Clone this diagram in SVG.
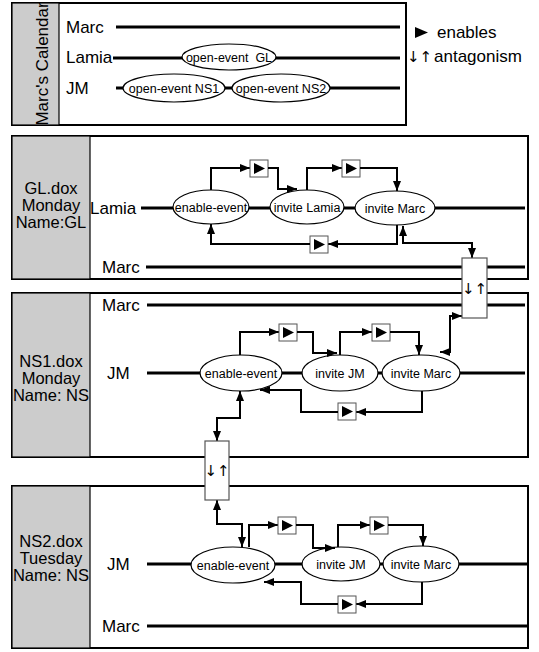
<svg xmlns="http://www.w3.org/2000/svg" xmlns:xlink="http://www.w3.org/1999/xlink" width="539" height="652" viewBox="0 0 539 652">
<style>
text{font-family:"Liberation Sans",Arial,Helvetica,sans-serif;fill:#000}
.lbl{font-size:17px}
.side{font-size:16.5px;text-anchor:middle}
.ev{font-size:12.5px;text-anchor:middle;white-space:pre}
.ant{font-family:"DejaVu Sans",sans-serif;font-size:15px;text-anchor:middle;fill:#000}
.antl{font-family:"DejaVu Sans",sans-serif;font-size:15px;fill:#000}
.frame{fill:#fff;stroke:#000;stroke-width:2}
.gray{fill:#cccccc;stroke:#000;stroke-width:1.2}
.lane{stroke:#000;stroke-width:3;fill:none}
.ell{fill:#fff;stroke:#000;stroke-width:1.2}
.arr{stroke:#000;stroke-width:2;fill:none;marker-end:url(#ah)}
.arr2{stroke:#000;stroke-width:2;fill:none;marker-end:url(#ah);marker-start:url(#ah)}
.abox{fill:#fff;stroke:#555;stroke-width:1.2}
</style>
<defs>
<marker id="ah" viewBox="0 0 10 8" refX="10" refY="4" markerWidth="10" markerHeight="8" markerUnits="userSpaceOnUse" orient="auto-start-reverse"><path d="M0,0 L10,4 L0,8 z" fill="#000"/></marker>
<g id="en"><rect x="0" y="0" width="18" height="17" fill="#fff" stroke="#555" stroke-width="1"/><polygon points="4,3 4,14 15,8.5" fill="#000"/></g>
</defs>

<!-- Marc's Calendar -->
<g id="calendar">
<rect class="frame" x="12" y="3" width="394" height="122"/>
<rect class="gray" x="12" y="3" width="47" height="122"/>
<text class="lbl" transform="translate(48,64) rotate(-90)" text-anchor="middle" font-size="18">Marc's Calendar</text>
<text class="lbl" x="66" y="33">Marc</text>
<line class="lane" x1="116" y1="27" x2="400" y2="27"/>
<text class="lbl" x="66" y="63">Lamia</text>
<line class="lane" x1="113" y1="58" x2="400" y2="58"/>
<text class="lbl" x="66" y="94">JM</text>
<line class="lane" x1="116" y1="88" x2="400" y2="88"/>
</g>
<g id="open-event-GL"><ellipse class="ell" cx="229" cy="57" rx="47" ry="13"/><text class="ev" x="229" y="61.5">open-event  GL</text></g>
<g id="open-event-NS1"><ellipse class="ell" cx="174" cy="88" rx="51" ry="14"/><text class="ev" x="174" y="92.5">open-event NS1</text></g>
<g id="open-event-NS2"><ellipse class="ell" cx="281" cy="88" rx="49" ry="14"/><text class="ev" x="281" y="92.5">open-event NS2</text></g>

<!-- legend -->
<g id="legend">
<polygon points="415,27 415,38 428,32.5" fill="#000"/>
<text class="lbl" x="437" y="38">enables</text>
<text class="antl" x="407" y="62">↓↑</text>
<text class="lbl" x="434" y="62">antagonism</text>
</g>

<!-- GL section -->
<g id="GL">
<rect class="frame" x="12" y="136" width="516" height="143"/>
<rect class="gray" x="12" y="136" width="78" height="143"/>
<text class="side" x="51" y="194">GL.dox</text>
<text class="side" x="51" y="211">Monday</text>
<text class="side" x="51" y="228">Name:GL</text>
<text class="lbl" x="90" y="214">Lamia</text>
<line class="lane" x1="141" y1="208" x2="525" y2="208"/>
<text class="lbl" x="102" y="273">Marc</text>
<line class="lane" x1="146" y1="267" x2="525" y2="267"/>
</g>
<g id="GL-enable-event"><ellipse class="ell" cx="211" cy="207" rx="38" ry="17"/><text class="ev" x="211" y="211.5">enable-event</text></g>
<g id="GL-invite-Lamia"><ellipse class="ell" cx="307" cy="207" rx="37" ry="17"/><text class="ev" x="307" y="211.5">invite Lamia</text></g>
<g id="GL-invite-Marc"><ellipse class="ell" cx="395" cy="208" rx="40" ry="17"/><text class="ev" x="395" y="212.5">invite Marc</text></g>

<!-- NS1 section -->
<g id="NS1">
<rect class="frame" x="12" y="293" width="516" height="164"/>
<rect class="gray" x="12" y="293" width="78" height="164"/>
<text class="side" x="51" y="367">NS1.dox</text>
<text class="side" x="51" y="384">Monday</text>
<text class="side" x="51" y="401">Name: NS</text>
<text class="lbl" x="102" y="311">Marc</text>
<line class="lane" x1="147" y1="305" x2="525" y2="305"/>
<text class="lbl" x="107" y="379">JM</text>
<line class="lane" x1="147" y1="373" x2="525" y2="373"/>
</g>
<g id="NS1-enable-event"><ellipse class="ell" cx="241" cy="373" rx="41" ry="18"/><text class="ev" x="241" y="377.5">enable-event</text></g>
<g id="NS1-invite-JM"><ellipse class="ell" cx="340" cy="373" rx="38" ry="18"/><text class="ev" x="340" y="377.5">invite JM</text></g>
<g id="NS1-invite-Marc"><ellipse class="ell" cx="421" cy="373" rx="39" ry="18"/><text class="ev" x="421" y="377.5">invite Marc</text></g>

<!-- NS2 section -->
<g id="NS2">
<rect class="frame" x="12" y="486" width="516" height="162"/>
<rect class="gray" x="12" y="486" width="78" height="162"/>
<text class="side" x="51" y="547">NS2.dox</text>
<text class="side" x="51" y="564">Tuesday</text>
<text class="side" x="51" y="581">Name: NS</text>
<text class="lbl" x="107" y="570">JM</text>
<line class="lane" x1="147" y1="564" x2="527" y2="564"/>
<text class="lbl" x="102" y="632">Marc</text>
<line class="lane" x1="147" y1="626" x2="527" y2="626"/>
</g>
<g id="NS2-enable-event"><ellipse class="ell" cx="233" cy="565" rx="42" ry="18"/><text class="ev" x="233" y="569.5">enable-event</text></g>
<g id="NS2-invite-JM"><ellipse class="ell" cx="341" cy="564" rx="39" ry="17"/><text class="ev" x="341" y="568.5">invite JM</text></g>
<g id="NS2-invite-Marc"><ellipse class="ell" cx="421" cy="564" rx="38" ry="18"/><text class="ev" x="421" y="568.5">invite Marc</text></g>

<!-- connectors -->
<g id="connectors">
<!-- GL -->
<path class="arr" d="M211,190 V168 H250"/>
<use xlink:href="#en" x="250" y="160"/>
<path class="arr" d="M268,168 H278 V189 H297"/>
<path class="arr" d="M307,190 V168 H342"/>
<use xlink:href="#en" x="342" y="160"/>
<path class="arr" d="M360,168 H397 V191"/>
<path class="arr" d="M397,225 V244 H328"/>
<use xlink:href="#en" x="310" y="236"/>
<path class="arr" d="M310,244 H211 V224"/>
<path class="arr2" d="M403,226 V243 H472 V258"/>
<path class="arr2" d="M462,316 H450 V352 H440"/>
<!-- NS1 -->
<path class="arr" d="M240,355 V332 H279"/>
<use xlink:href="#en" x="279" y="324"/>
<path class="arr" d="M297,332 H313 V353 H337"/>
<path class="arr" d="M340,355 V332 H372"/>
<use xlink:href="#en" x="372" y="324"/>
<path class="arr" d="M390,332 H419 V355"/>
<path class="arr" d="M422,391 V412 H356"/>
<use xlink:href="#en" x="338" y="403"/>
<path class="arr" d="M338,412 H301 V390 H260"/>
<path class="arr2" d="M240,391 V418 H217 V441"/>
<!-- NS2 -->
<path class="arr2" d="M217,500 V524 H242 V547"/>
<path class="arr" d="M249,547 V525 H278"/>
<use xlink:href="#en" x="278" y="517"/>
<path class="arr" d="M296,525 H313 V548 H335"/>
<path class="arr" d="M338,547 V525 H370"/>
<use xlink:href="#en" x="370" y="517"/>
<path class="arr" d="M388,525 H423 V546"/>
<path class="arr" d="M422,582 V604 H356"/>
<use xlink:href="#en" x="338" y="596"/>
<path class="arr" d="M338,604 H301 V582 H264"/>
</g>

<!-- antagonism boxes -->
<g id="antag-GL-NS1">
<rect class="abox" x="462" y="258" width="25" height="60"/>
<text class="ant" x="474.5" y="294">↓↑</text>
</g>
<g id="antag-NS1-NS2">
<rect class="abox" x="205" y="441" width="24" height="59"/>
<text class="ant" x="217" y="476">↓↑</text>
</g>
</svg>
